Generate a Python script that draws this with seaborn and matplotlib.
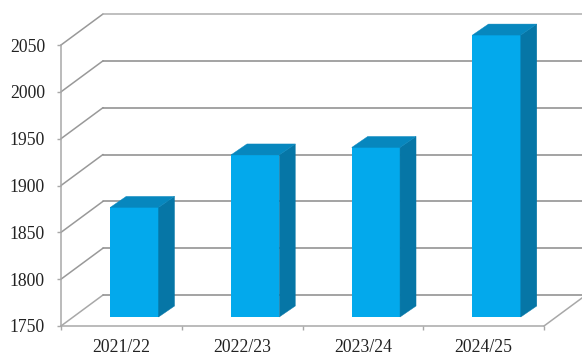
import matplotlib
matplotlib.use("Agg")
import matplotlib.pyplot as plt
from matplotlib.lines import Line2D
from matplotlib.patches import Polygon
from matplotlib.transforms import Affine2D, IdentityTransform
import seaborn as sns

seasons = ["2021/22", "2022/23", "2023/24", "2024/25"]
production = [1867, 1923, 1931, 2051]
y_ticks = [1750, 1800, 1850, 1900, 1950, 2000, 2050]

FRONT = "#03A9EC"
TOP = "#0787BE"
SIDE = "#0676A6"
GRID = "#8A8A8A"
AXIS = "#A8A8A8"

# Pseudo-3D depth offsets in display pixels (y points up)
WALL_DEPTH = (42, 31)
BAR_FRONT = (13, 9)
BAR_BACK = (29, 20)

sns.set_theme(style="white")
plt.rcParams["font.family"] = ["Liberation Serif", "DejaVu Serif"]

W, H = 582, 354
fig = plt.figure(figsize=(W / 100, H / 100), dpi=100, facecolor="white")
ax = fig.add_axes([61 / W, (H - 326) / H, 483 / W, 281 / H])

sns.barplot(x=seasons, y=production, color=FRONT, width=0.4, saturation=1, ax=ax, zorder=5)
ax.set_xlim(-0.5, 3.5)
ax.set_ylim(y_ticks[0], y_ticks[-1])
fig.canvas.draw()


def shifted(x, y, offset):
    px, py = ax.transData.transform((x, y))
    return px + offset[0], py + offset[1]


def polygon(points, color):
    ax.add_artist(Polygon(points, closed=True, facecolor=color, edgecolor=color, lw=0.3,
                          transform=IdentityTransform(), zorder=6, clip_on=False))


def line(p, q, color=GRID, lw=1.1):
    ax.add_artist(Line2D([p[0], q[0]], [p[1], q[1]], color=color, lw=lw,
                         transform=IdentityTransform(), zorder=1, clip_on=False))


# Back wall and left wall gridlines
for v in y_ticks:
    front_pt = shifted(-0.5, v, (0, 0))
    back_pt = shifted(-0.5, v, WALL_DEPTH)
    far_pt = shifted(3.5, v, WALL_DEPTH)
    color = "#ADADAD" if v == y_ticks[-1] else GRID
    line(front_pt, back_pt, color=AXIS if v == y_ticks[0] else "#999999")
    line(back_pt, far_pt, color=color)

# Right edge of the floor
line(shifted(3.5, y_ticks[0], (0, 0)), shifted(3.5, y_ticks[0], WALL_DEPTH), color=AXIS)

# Bars are shifted onto the floor and given their top and side faces
to_front = Affine2D().translate(*BAR_FRONT)
for patch, value in zip(ax.patches, production):
    x0 = patch.get_x()
    x1 = x0 + patch.get_width()
    base = y_ticks[0]
    patch.set_y(base)
    patch.set_height(value - base)
    patch.set_transform(ax.transData + to_front)
    patch.set_clip_on(False)
    patch.set_linewidth(0)

    polygon([shifted(x1, base, BAR_FRONT), shifted(x1, base, BAR_BACK),
             shifted(x1, value, BAR_BACK), shifted(x1, value, BAR_FRONT)], SIDE)
    polygon([shifted(x0, value, BAR_FRONT), shifted(x1, value, BAR_FRONT),
             shifted(x1, value, BAR_BACK), shifted(x0, value, BAR_BACK)], TOP)

ax.patch.set_alpha(0)
sns.despine(ax=ax)
for side in ("left", "bottom"):
    ax.spines[side].set_color(AXIS)
    ax.spines[side].set_linewidth(1.1)

ax.set_yticks(y_ticks)
ax.set_xticks(range(len(seasons)))
ax.set_xticklabels(seasons)
ax.set_xticks([-0.5, 0.5, 1.5, 2.5, 3.5], minor=True)
ax.tick_params(axis="x", which="major", length=0, pad=9, labelsize=12.7, labelcolor="#222222")
ax.tick_params(axis="x", which="minor", length=3, width=1, color=AXIS, direction="out", bottom=True)
ax.tick_params(axis="y", length=3, width=1, color=AXIS, direction="out", left=True, pad=8.5,
               labelsize=12.7, labelcolor="#222222")
ax.set_xlabel("")
ax.set_ylabel("")

fig.savefig("out.png", dpi=100)
